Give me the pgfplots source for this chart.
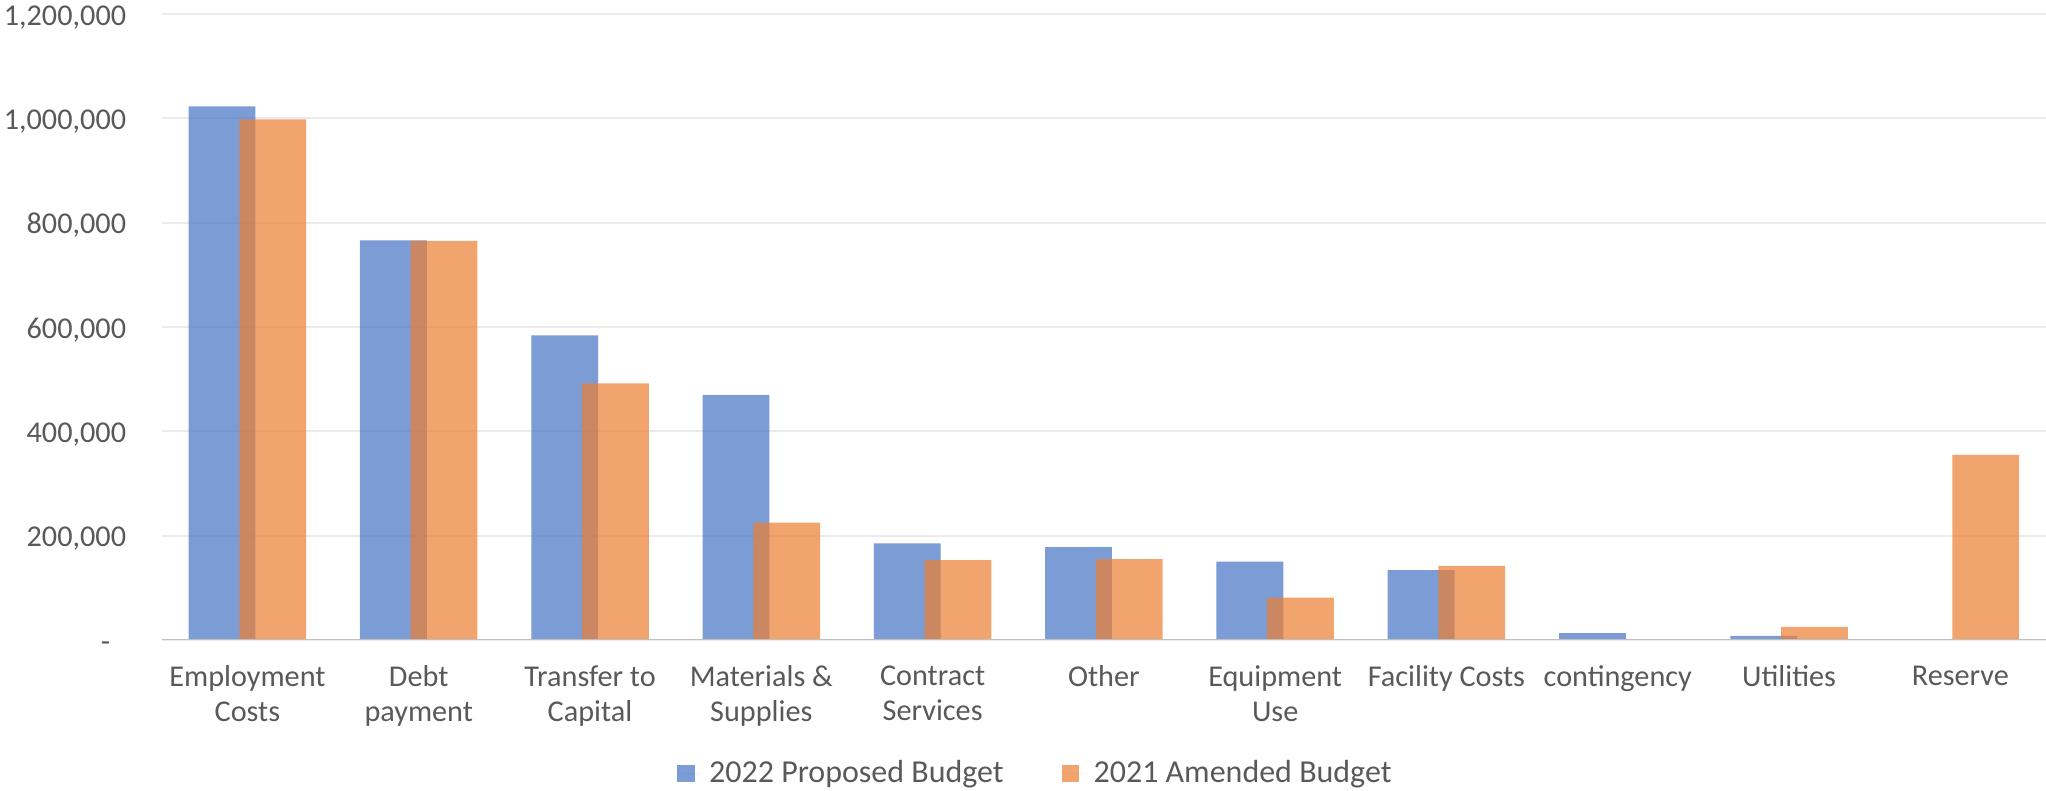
\documentclass[border=0pt]{standalone}
\usepackage{pgfplots}
\pgfplotsset{compat=1.18}
\usepackage{fontspec}
\setmainfont{Carlito}
\definecolor{cblue}{HTML}{4472C4}
\definecolor{corange}{HTML}{ED7D31}
\definecolor{ctext}{HTML}{595959}
\definecolor{cgrid}{HTML}{EBEBEB}
\definecolor{caxis}{HTML}{BFBFBF}
\begin{document}
\begin{tikzpicture}[x=1mm,y=1mm]
\begin{axis}[
  at={(16.18mm,15.1mm)}, anchor=south west,
  scale only axis,
  width=188.42mm, height=62.6mm,
  xmin=-0.5, xmax=10.5,
  ymin=0, ymax=1200000,
  axis line style={draw=none},
  ybar, bar width=0.39,
  xtick={0,...,10},
  xticklabels={{Employment\\Costs},{Debt\\payment},{Transfer to\\Capital},{Materials \&\\Supplies},{Contract\\Services},{Other},{Equipment\\Use},{Facility Costs},{contingency},{Utilities},{Reserve}},
  ytick={0,200000,400000,600000,800000,1000000,1200000},
  yticklabels={{-\hspace*{1.6mm}},{200,000},{400,000},{600,000},{800,000},{1,000,000},{1,200,000}},
  major tick length=0pt,
  ymajorgrids,
  major grid style={cgrid, line width=0.2mm},
  xticklabel style={font=\fontsize{8.6}{10}\selectfont, text=ctext, align=center, anchor=north, inner sep=0pt, yshift=-2.5mm},
  yticklabel style={font=\fontsize{8.6}{10}\selectfont, text=ctext, anchor=east, inner sep=0pt, xshift=-3.5mm, text height=0.632em, text depth=0pt},
  legend columns=2,
  legend style={draw=none, fill=none, at={(axis description cs:0.4652,-0.214)}, anchor=center,
    font=\fontsize{9.1}{10}\selectfont, text=ctext,
    /tikz/every even column/.append style={column sep=5.0mm},
    nodes={inner sep=0.8mm}},
  legend image code/.code={\fill[#1] (0mm,-0.85mm) rectangle (1.75mm,0.85mm); \path (0mm,0mm) -- (2.4mm,0mm);},
]
\addplot[fill=cblue, fill opacity=0.7, draw=none, bar shift=-0.148] coordinates {
  (0,1023000) (1,766000) (2,584000) (3,470000) (4,185000) (5,178000) (6,150000) (7,134000) (8,13000) (9,8000) (10,0)};
\addplot[fill=corange, fill opacity=0.7, draw=none, bar shift=0.148] coordinates {
  (0,998000) (1,765000) (2,492000) (3,225000) (4,153000) (5,155000) (6,81000) (7,142000) (8,0) (9,25000) (10,355000)};
\legend{2022 Proposed Budget, 2021 Amended Budget}
\draw[caxis, line width=0.27mm] (rel axis cs:0,0) -- (rel axis cs:1,0);
\end{axis}
\pgfresetboundingbox
\path[use as bounding box] (0,0) rectangle (204.6,79.1);
\end{tikzpicture}
\end{document}
